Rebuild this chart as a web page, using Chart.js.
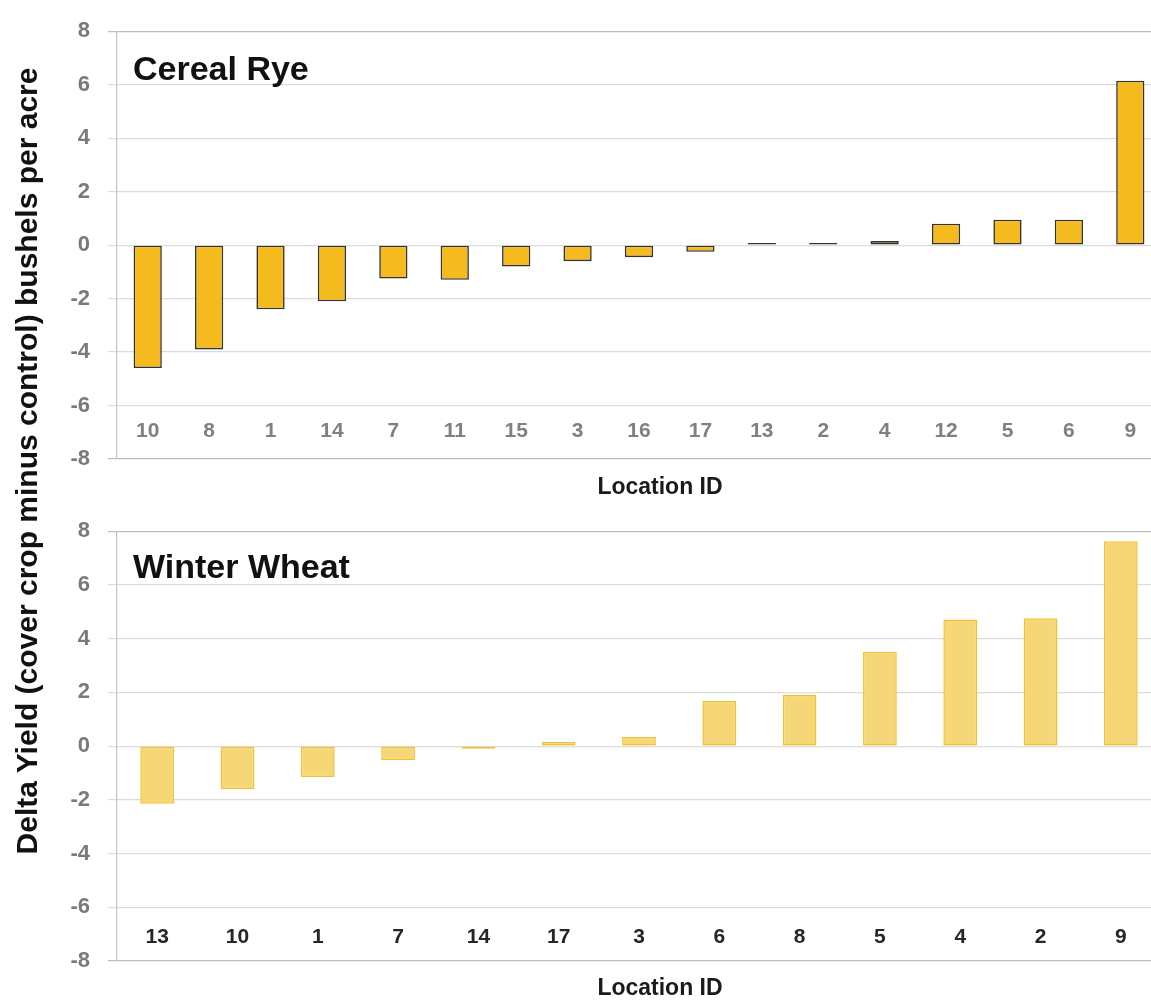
<!DOCTYPE html>
<html>
<head>
<meta charset="utf-8">
<script src="https://cdn.jsdelivr.net/npm/chart.js@4.4.1/dist/chart.umd.min.js"></script>
<style>
  html, body { margin:0; padding:0; background:#fff; overflow:hidden; }
  #page { position:relative; width:1151px; height:1000px; overflow:hidden; }
  canvas { position:absolute; left:0; }
  #ryeChart { top:0; }
  #wheatChart { top:500px; }
  .xtitle { position:absolute; left:560px; width:200px; text-align:center; line-height:28px;
            font: bold 23px "Liberation Sans", Arial, sans-serif; color:#1a1a1a; }
  #ytitle { position:absolute; left:-475px; top:446px; width:1000px; height:30px; line-height:30px;
            text-align:center; transform:rotate(-90deg);
            font: bold 30px "Liberation Sans", Arial, sans-serif; color:#111; }
</style>
</head>
<body>
<div id="page">
  <canvas id="ryeChart" width="1162" height="500"></canvas>
  <canvas id="wheatChart" width="1162" height="500"></canvas>
  <div class="xtitle" style="top:473px">Location ID</div>
  <div class="xtitle" style="top:974px">Location ID</div>
  <div id="ytitle">Delta Yield (cover crop minus control) bushels per acre</div>
</div>
<script>
// data
const ryeSites = ["10","8","1","14","7","11","15","3","16","17","13","2","4","12","5","6","9"];
const ryeDelta = [-4.6,-3.9,-2.4,-2.1,-1.25,-1.3,-0.8,-0.6,-0.45,-0.25,0.08,0.08,0.15,0.8,0.95,0.95,6.15];

const wheatSites = ["13","10","1","7","14","17","3","6","8","5","4","2","9"];
const wheatDelta = [-2.15,-1.6,-1.15,-0.53,-0.1,0.15,0.34,1.68,1.9,3.51,4.71,4.76,7.63];

const yTicks = [-8,-6,-4,-2,0,2,4,6,8];

const FONT = '"Liberation Sans", Arial, sans-serif';

// label inside the plot, top left
const panelLabel = {
  id: 'panelLabel',
  afterDraw(chart, args, opts) {
    const {ctx, chartArea} = chart;
    ctx.save();
    ctx.font = 'bold 34px ' + FONT;
    ctx.fillStyle = '#111';
    ctx.textBaseline = 'alphabetic';
    ctx.fillText(opts.text, chartArea.left + 16, chartArea.top + opts.offset);
    ctx.restore();
  }
};

function makeChart(id, labels, values, o) {
  return new Chart(document.getElementById(id), {
    type: 'bar',
    data: {
      labels: labels,
      datasets: [{
        data: values,
        backgroundColor: o.fill,
        borderColor: o.border,
        borderWidth: o.borderWidth,
        borderSkipped: false,
        barPercentage: o.barPct,
        categoryPercentage: 1
      }]
    },
    options: {
      responsive: false,
      animation: false,
      layout: { padding: { top: o.padTop, bottom: o.padBottom, left: 0, right: 1 } },
      plugins: {
        legend: { display: false },
        tooltip: { enabled: false },
        panelLabel: { text: o.title, offset: o.titleOffset }
      },
      scales: {
        x: {
          position: { y: -6.5 },
          grid: { display: false, drawTicks: false },
          border: { display: false },
          ticks: {
            color: o.xColor,
            padding: o.xPad,
            maxRotation: 0,
            autoSkip: false,
            font: { family: FONT, size: 21, weight: 'bold' }
          }
        },
        y: {
          min: -8,
          max: 8,
          afterFit: s => { s.width = 117; },
          afterBuildTicks: s => { s.ticks = yTicks.map(v => ({ value: v })); },
          grid: {
            color: c => (Math.abs(c.tick.value) === 8 ? '#bdbdbd' : '#dcdcdc'),
            lineWidth: 1.2,
            tickLength: 9
          },
          border: { display: true, color: '#c4c4c4', width: 1.2 },
          ticks: {
            color: '#7a7a7a',
            padding: 18,
            font: { family: FONT, size: 22, weight: 'bold' }
          }
        }
      }
    },
    plugins: [panelLabel]
  });
}

const ryeChart = makeChart('ryeChart', ryeSites, ryeDelta, {
  fill: '#f4ba1e', border: '#333333', borderWidth: 1.6, barPct: 0.46,
  padTop: 26, padBottom: 41, title: 'Cereal Rye', titleOffset: 49,
  xColor: '#808080', xPad: 0
});

const wheatChart = makeChart('wheatChart', wheatSites, wheatDelta, {
  fill: '#f6d777', border: '#f2c12e', borderWidth: 1.5, barPct: 0.42,
  padTop: 31, padBottom: 39, title: 'Winter Wheat', titleOffset: 47,
  xColor: '#262626', xPad: 4
});
</script>
</body>
</html>
